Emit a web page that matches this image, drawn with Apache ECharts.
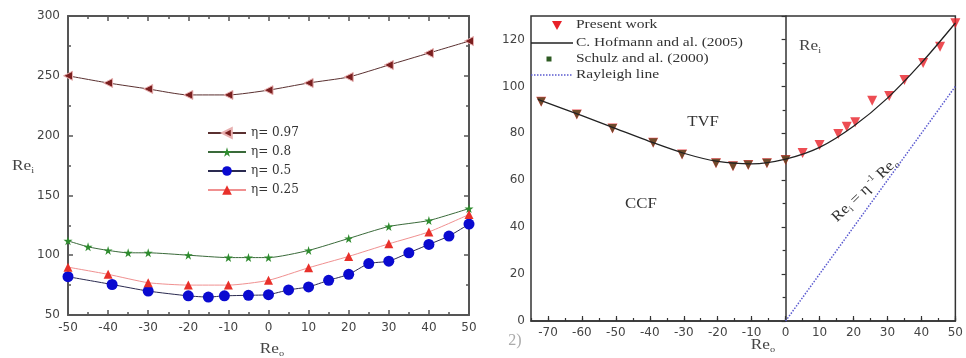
<!DOCTYPE html>
<html>
<head>
<meta charset="utf-8">
<script src="https://cdn.jsdelivr.net/npm/echarts@6/dist/echarts.min.js"></script>
<style>html,body{margin:0;padding:0;background:#fff;}#c{width:966px;height:358px;}</style>
</head>
<body>
<div id="c"></div>
<script>
// ---- Left panel data ----
const xEta097 = [-50,-40,-30,-20,-10,0,10,20,30,40,50];
const yEta097 = [250,244,239,234,234,238,244,249,259,269,279];
const xEta08 = [-50,-45,-40,-35,-30,-20,-10,-5,0,10,20,30,40,50];
const yEta08 = [112,107,104,102,102,100,98,98,98,104,114,124,129,139];
const xEta05 = [-50,-39,-30,-20,-15,-11,-5,0,5,10,15,20,25,30,35,40,45,50];
const yEta05 = [82,75.5,70,66,65,66,66.5,67,71,73.5,79,84,93,95,102,109,116,126];
const xEta025 = [-50,-40,-30,-20,-10,0,10,20,30,40,50];
const yEta025 = [90,84,77,75,75,79,89.5,99,109.5,119.5,134];
const leftNames = ['η= 0.97','η= 0.8','η= 0.5','η= 0.25'];
const leftXTicks = [-50,50,10];   // min, max, step
const leftYTicks = [50,300,50];

// ---- Right panel data ----
const xPresent = [-72,-61.5,-51,-39,-30.5,-20.5,-15.5,-11,-5.5,0,5,10,15.5,18,20.5,25.5,30.5,35,40.5,45.5,50];
const yPresent = [93.5,88,82,76,71,67.2,66,66.5,67.2,68.6,71.6,75,79.7,82.8,84.7,93.9,95.9,102.7,110,116.9,126.9];
const xSchulz = [-72,-61.5,-51,-39,-30.5,-20.5,-15.5,-11,-5.5,0];
const ySchulz = [93.5,88,82,76,71,67.2,66,66.5,67.2,68.6];
const xHofmann = [-73,-60,-50,-40,-30,-20,-10,0,10,20,30,40,50];
const yHofmann = [94.5,87.5,82,76.5,71.5,68,67,69,74,83,95,110,127];
const xRayleigh = [0,50];
const yRayleigh = [0,100];
const rightNames = ['Present work','C. Hofmann and al. (2005)','Schulz and al. (2000)','Rayleigh line'];
const rightXLabels = [-70,-60,-50,-40,-30,-20,-10,0,10,20,30,40,50];

const zip = (a,b) => a.map((v,i)=>[v,b[i]]);
const SERIF = 'Liberation Serif';
const TICKFONT = 'DejaVu Sans';
const starPath = 'path://M50,0 L61,35 L98,35 L68,57 L79,91 L50,70 L21,91 L32,57 L2,35 L39,35 Z';

const axColL = '#555';
function leftAxis(extra){
  return Object.assign({
    type:'value', gridIndex:0,
    axisLine:{onZero:false, lineStyle:{color:axColL, width:2}},
    axisTick:{inside:true, length:5, lineStyle:{color:axColL, width:1.5}},
    minorTick:{show:true, splitNumber:2, length:3, lineStyle:{color:axColL, width:1.5}},
    splitLine:{show:false}, minorSplitLine:{show:false},
    axisLabel:{fontFamily:TICKFONT, fontSize:12, color:'#444'}
  }, extra);
}

const subRich = {
  b:{fontFamily:SERIF, fontSize:15, fill:'#444', lineHeight:18, verticalAlign:'middle'},
  s:{fontFamily:SERIF, fontSize:9, fill:'#444', lineHeight:18, verticalAlign:'bottom'},
  p:{fontFamily:SERIF, fontSize:9, fill:'#444', lineHeight:18, verticalAlign:'top'}
};
const annRich = {
  b:{fontFamily:SERIF, fontSize:15, fill:'#333', lineHeight:18, verticalAlign:'middle'},
  s:{fontFamily:SERIF, fontSize:9, fill:'#333', lineHeight:18, verticalAlign:'bottom'},
  p:{fontFamily:SERIF, fontSize:9, fill:'#333', lineHeight:18, verticalAlign:'top'}
};
function legText(txt, y){
  return {type:'text', x:576, y:y, scaleX:1.24, z:100,
    style:{text:txt, fontFamily:SERIF, fontSize:12.5, fill:'#333', align:'left', verticalAlign:'middle'}};
}

const chart = echarts.init(document.getElementById('c'), null, {renderer:'canvas'});
chart.setOption({
  animation:false,
  backgroundColor:'#fff',
  grid:[
    {left:68, top:16, width:401, height:299},
    {left:531, top:16, width:428, height:305, show:true, borderColor:'#333', borderWidth:1.5, backgroundColor:'transparent'}
  ],
  xAxis:[
    leftAxis({min:leftXTicks[0], max:leftXTicks[1], interval:leftXTicks[2], position:'bottom',
      axisLabel:{fontFamily:TICKFONT, fontSize:12, color:'#444', margin:7}}),
    leftAxis({min:leftXTicks[0], max:leftXTicks[1], interval:leftXTicks[2], position:'top', axisLabel:{show:false}}),
    {type:'value', gridIndex:1, min:-75, max:50, interval:5, position:'bottom',
      axisLine:{onZero:true, lineStyle:{color:'#333', width:1.5}},
      axisTick:{inside:true, length:3, lineStyle:{color:'#333', width:1.2}},
      splitLine:{show:false},
      axisLabel:{fontFamily:TICKFONT, fontSize:12, color:'#444', margin:6,
        formatter:v => (rightXLabels.indexOf(v) >= 0 ? String(v) : '')}},
    {type:'value', gridIndex:1, min:-75, max:50, position:'bottom',
      axisLine:{show:false},
      axisTick:{inside:true, length:5, customValues:rightXLabels, lineStyle:{color:'#333', width:1.2}},
      splitLine:{show:false}, axisLabel:{show:false}}
  ],
  yAxis:[
    leftAxis({min:leftYTicks[0], max:leftYTicks[1], interval:leftYTicks[2], position:'left',
      axisLabel:{fontFamily:TICKFONT, fontSize:12, color:'#444', margin:8}}),
    leftAxis({min:leftYTicks[0], max:leftYTicks[1], interval:leftYTicks[2], position:'right', axisLabel:{show:false}}),
    {type:'value', gridIndex:1, min:0, max:130, interval:20, position:'left',
      axisLine:{onZero:true, lineStyle:{color:'#333', width:1.5}},
      axisTick:{inside:false, length:4, lineStyle:{color:'#333', width:1.2}},
      minorTick:{show:true, splitNumber:2, length:3, lineStyle:{color:'#333', width:1.2}},
      splitLine:{show:false}, minorSplitLine:{show:false},
      axisLabel:{fontFamily:TICKFONT, fontSize:12, color:'#444', margin:6, showMaxLabel:false}}
  ],
  legend:[
    {orient:'vertical', left:202, top:121, itemWidth:38, itemHeight:12, itemGap:5,
      data:leftNames, textStyle:{fontFamily:'DejaVu Serif', fontSize:12, color:'#333', lineHeight:14}}
  ],
  series:[
    {name:leftNames[0], type:'line', xAxisIndex:0, yAxisIndex:0, data:zip(xEta097,yEta097), smooth:0.2,
      symbol:'triangle', symbolRotate:90, symbolSize:9,
      itemStyle:{color:'#7a1f1f', borderColor:'#e8b0b0', borderWidth:1}, lineStyle:{color:'#5a3030', width:1}},
    {name:leftNames[1], type:'line', xAxisIndex:0, yAxisIndex:0, data:zip(xEta08,yEta08), smooth:0.2,
      symbol:starPath, symbolSize:9,
      itemStyle:{color:'#2e8b2e'}, lineStyle:{color:'#3a6a3a', width:1}},
    {name:leftNames[2], type:'line', xAxisIndex:0, yAxisIndex:0, data:zip(xEta05,yEta05), smooth:0.2,
      symbol:'circle', symbolSize:11,
      itemStyle:{color:'#0a0ad0'}, lineStyle:{color:'#2a2a50', width:1}},
    {name:leftNames[3], type:'line', xAxisIndex:0, yAxisIndex:0, data:zip(xEta025,yEta025), smooth:0.2,
      symbol:'triangle', symbolSize:9,
      itemStyle:{color:'#e8302a'}, lineStyle:{color:'#f09090', width:1}},

    {name:rightNames[3], type:'line', xAxisIndex:2, yAxisIndex:2, data:zip(xRayleigh,yRayleigh),
      symbol:'none', lineStyle:{color:'#5a5ad0', width:1.5, type:'dotted'}},
    {name:rightNames[0], type:'scatter', xAxisIndex:2, yAxisIndex:2, data:zip(xPresent,yPresent),
      symbol:'triangle', symbolRotate:180, symbolSize:10, itemStyle:{color:'#e82028'}},
    {name:rightNames[2], type:'scatter', xAxisIndex:2, yAxisIndex:2, data:zip(xSchulz,ySchulz),
      symbol:'triangle', symbolRotate:180, symbolSize:9, itemStyle:{color:'#4f4a22'}},
    {name:rightNames[1], type:'line', xAxisIndex:2, yAxisIndex:2, data:zip(xHofmann,yHofmann), smooth:0.3,
      symbol:'none', lineStyle:{color:'#222', width:1.3}, z:5}
  ],
  graphic:[
    // right-panel legend
    {type:'polygon', shape:{points:[[552,21],[562,21],[557,30]]}, style:{fill:'#e82028'}, z:100},
    {type:'line', shape:{x1:531,y1:43,x2:573,y2:43}, style:{stroke:'#222', lineWidth:1.3}, z:100},
    {type:'rect', shape:{x:546.5,y:56.5,width:5,height:5}, style:{fill:'#2d5a22'}, z:100},
    {type:'line', shape:{x1:531,y1:75,x2:573,y2:75}, style:{stroke:'#5a5ad0', lineWidth:1.5, lineDash:[1.5,1.5]}, z:100},
    legText(rightNames[0], 25), legText(rightNames[1], 43), legText(rightNames[2], 59), legText(rightNames[3], 75),
    // region labels
    {type:'text', x:703, y:122, scaleX:1.12, style:{text:'TVF', fontFamily:SERIF, fontSize:15, fill:'#333', align:'center', verticalAlign:'middle'}},
    {type:'text', x:641, y:204, scaleX:1.12, style:{text:'CCF', fontFamily:SERIF, fontSize:15, fill:'#333', align:'center', verticalAlign:'middle'}},
    {type:'text', x:515, y:341, style:{text:'2)', fontFamily:SERIF, fontSize:16, fill:'#aaa', align:'center', verticalAlign:'middle'}},
    // axis names
    {type:'text', x:23, y:166, scaleX:1.15, style:{text:'{b|Re}{s|i}', rich:subRich, align:'center', verticalAlign:'middle'}},
    {type:'text', x:272, y:349, scaleX:1.15, style:{text:'{b|Re}{s|o}', rich:subRich, align:'center', verticalAlign:'middle'}},
    {type:'text', x:799, y:46, scaleX:1.15, style:{text:'{b|Re}{s|i}', rich:subRich, align:'left', verticalAlign:'middle'}},
    {type:'text', x:763, y:345, scaleX:1.15, style:{text:'{b|Re}{s|o}', rich:subRich, align:'center', verticalAlign:'middle'}},
    // Rayleigh annotation
    {type:'text', x:865, y:190, rotation:44*Math.PI/180, scaleX:1.1,
      style:{text:'{b|Re}{s|i}{b| = η}{p| -1}{b| Re}{s|o}', rich:annRich, align:'center', verticalAlign:'middle'}}
  ]
});
</script>
</body>
</html>
